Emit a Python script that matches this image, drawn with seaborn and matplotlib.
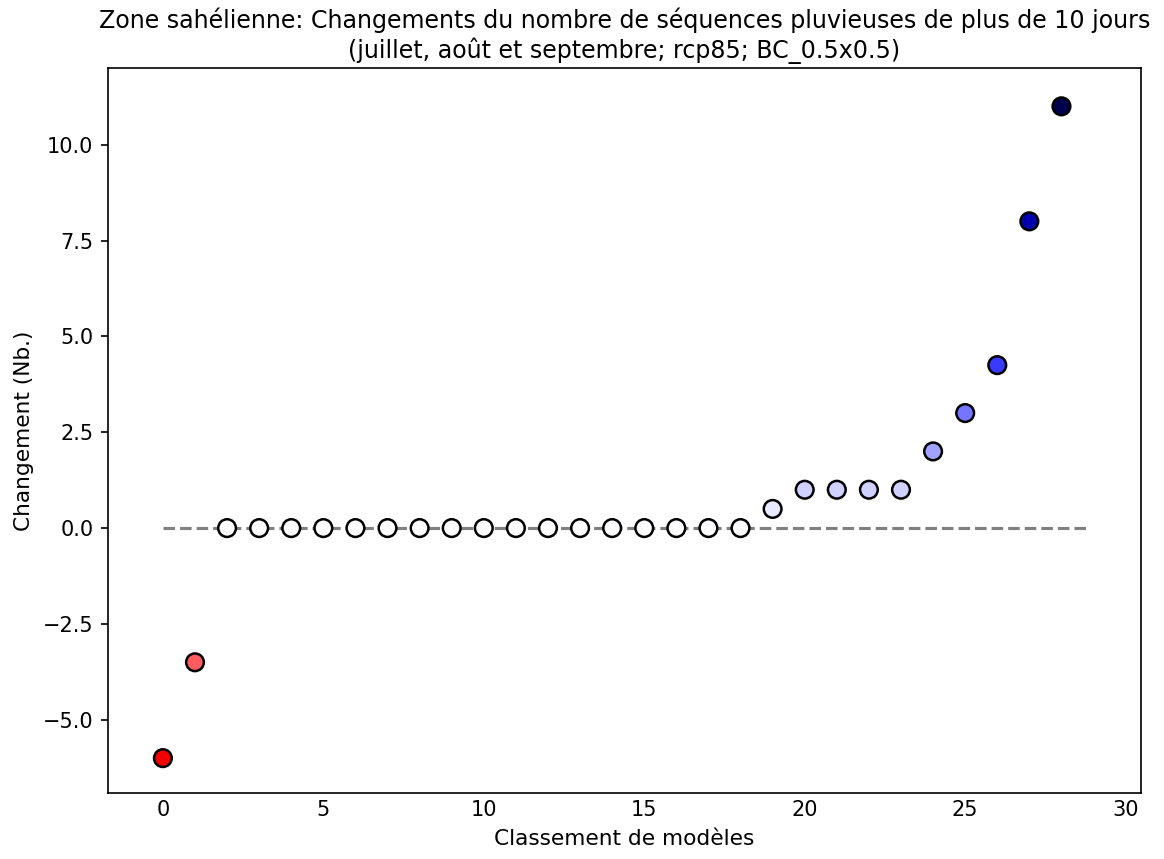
import matplotlib
matplotlib.use("Agg")
import matplotlib.pyplot as plt
import pandas as pd
import seaborn as sns

# model ranking and change in number of rainy sequences (>10 days)
rang = list(range(29))
changement = [-6.0, -3.5] + [0.0] * 17 + [0.5, 1.0, 1.0, 1.0, 1.0, 2.0, 3.0, 4.25, 8.0, 11.0]

titre = ("Zone sahélienne: Changements du nombre de séquences pluvieuses de plus de 10 jours\n"
         "(juillet, août et septembre; rcp85; BC_0.5x0.5)")

df = pd.DataFrame({'rang': rang, 'changement': changement})
vmax = max(abs(v) for v in changement)

fig = plt.figure(figsize=(7.76, 5.727), dpi=150)
ax = fig.add_axes([0.0928, 0.0768, 0.8872, 0.8440])

# zero reference line
ax.plot([0, len(rang) - 0.1], [0, 0], color='grey', linestyle='--', linewidth=1.5, zorder=1)

sns.scatterplot(data=df, x='rang', y='changement', hue='changement', palette='seismic_r',
                hue_norm=(-vmax, vmax), s=72, edgecolor='black', linewidth=1.2,
                legend=False, ax=ax, zorder=3)

ax.set_xlim(-1.71, 30.47)
ax.set_ylim(-6.91, 12.0)
ax.tick_params(axis='x', length=0, labelsize=10)
ax.tick_params(axis='y', labelsize=10)
ax.set_xlabel('Classement de modèles', fontsize=10.4)
ax.set_ylabel('Changement (Nb.)', fontsize=10.4)
ax.set_title(titre, fontsize=11.4, pad=5)

fig.savefig('out.png', dpi=150)
